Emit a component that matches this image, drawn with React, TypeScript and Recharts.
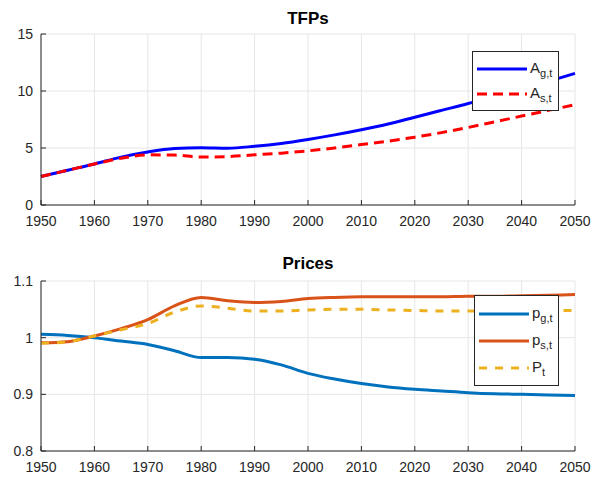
import React from "react"
import { LineChart, Line, XAxis, YAxis, CartesianGrid, Legend } from "recharts"

const years = [1950, 1955, 1960, 1965, 1970, 1975, 1980, 1985, 1990, 1995, 2000, 2005, 2010, 2015, 2020, 2025, 2030, 2035, 2040, 2045, 2050]
const aG = [2.5, 3.05, 3.6, 4.2, 4.65, 4.95, 5.02, 4.98, 5.15, 5.4, 5.75, 6.15, 6.6, 7.1, 7.7, 8.3, 8.9, 9.55, 10.2, 10.85, 11.55]
const aS = [2.5, 3.05, 3.6, 4.1, 4.4, 4.38, 4.2, 4.25, 4.4, 4.55, 4.75, 5.0, 5.3, 5.6, 5.95, 6.35, 6.8, 7.3, 7.8, 8.3, 8.8]
const pG = [1.006, 1.004, 1.0, 0.994, 0.988, 0.977, 0.965, 0.965, 0.962, 0.952, 0.937, 0.927, 0.919, 0.913, 0.909, 0.906, 0.903, 0.901, 0.9, 0.899, 0.898]
const pS = [0.991, 0.993, 1.003, 1.016, 1.032, 1.056, 1.071, 1.065, 1.062, 1.064, 1.069, 1.071, 1.072, 1.072, 1.072, 1.072, 1.073, 1.073, 1.074, 1.075, 1.076]
const pT = [0.99, 0.993, 1.003, 1.014, 1.025, 1.045, 1.056, 1.052, 1.047, 1.047, 1.049, 1.05, 1.05, 1.049, 1.048, 1.047, 1.047, 1.047, 1.047, 1.048, 1.048]

const xTicks = [1950, 1960, 1970, 1980, 1990, 2000, 2010, 2020, 2030, 2040, 2050]
const tfpTicks = [0, 5, 10, 15]
const priceTicks = [0.8, 0.9, 1, 1.1]

const tfpData = years.map((y, i) => ({ year: y, ag: aG[i], as: aS[i] }))
const priceData = years.map((y, i) => ({ year: y, pg: pG[i], ps: pS[i], pt: pT[i] }))

const font = "'Liberation Sans', Arial, sans-serif"
const axisColor = "#262626"
const tickStyle = { fontSize: 14, fill: "#262626", fontFamily: font }

type Item = { name: string; sub: string; color: string; dash?: string }

function BoxLegend({ items, rowGap }: { items: Item[]; rowGap: number }) {
  return (
    <div
      style={{
        border: "1px solid #262626",
        background: "#fff",
        boxSizing: "border-box",
        padding: "4px 4px",
        fontFamily: font,
        fontSize: 15,
        color: "#262626",
      }}
    >
      {items.map((it) => (
        <div key={it.name + it.sub} style={{ display: "flex", alignItems: "center", height: rowGap }}>
          <svg width={50} height={6} style={{ marginRight: 3 }}>
            <line x1={0} y1={3} x2={50} y2={3} stroke={it.color} strokeWidth={3} strokeDasharray={it.dash} />
          </svg>
          <span>
            {it.name}
            <sub style={{ fontSize: 11 }}>{it.sub}</sub>
          </span>
        </div>
      ))}
    </div>
  )
}

function Title({ text, top }: { text: string; top: number }) {
  return (
    <div
      style={{
        position: "absolute",
        top,
        left: 41,
        width: 534,
        textAlign: "center",
        fontFamily: font,
        fontWeight: "bold",
        fontSize: 17,
        color: "#000",
      }}
    >
      {text}
    </div>
  )
}

function boxAxes(domain: number[], yTicks: number[]) {
  return [
    <XAxis
      key="xt"
      xAxisId="top"
      orientation="top"
      dataKey="year"
      type="number"
      domain={[1950, 2050]}
      ticks={xTicks}
      tick={false}
      tickSize={-5}
      height={0}
      stroke={axisColor}
    />,
    <YAxis
      key="yr"
      yAxisId="right"
      orientation="right"
      type="number"
      domain={domain}
      ticks={yTicks}
      tick={false}
      tickSize={-5}
      width={0}
      stroke={axisColor}
    />,
  ]
}

export default function App() {
  return (
    <div style={{ position: "absolute", top: 0, left: 0, width: 593, height: 477, background: "#fff", overflow: "hidden" }}>
      <Title text="TFPs" top={9} />
      <div style={{ position: "absolute", top: 0, left: 0 }}>
        <LineChart width={593} height={240} data={tfpData} margin={{ top: 34, right: 18, left: 0, bottom: 0 }}>
          <CartesianGrid stroke="#e6e6e6" />
          <XAxis
            dataKey="year"
            type="number"
            domain={[1950, 2050]}
            ticks={xTicks}
            tickSize={-5}
            tickMargin={16}
            height={35}
            stroke={axisColor}
            tick={tickStyle}
          />
          <YAxis
            type="number"
            domain={[0, 15]}
            ticks={tfpTicks}
            tickSize={-5}
            tickMargin={13}
            width={41}
            stroke={axisColor}
            tick={tickStyle}
          />
          {boxAxes([0, 15], tfpTicks)}
          <Line dataKey="ag" type="monotone" stroke="#0000ff" strokeWidth={3} dot={false} isAnimationActive={false} />
          <Line dataKey="as" type="monotone" stroke="#ff0000" strokeWidth={3} strokeDasharray="10 6" dot={false} isAnimationActive={false} />
          <Legend
            layout="horizontal"
            verticalAlign="middle"
            align="center"
            wrapperStyle={{ top: 51, left: 472, width: 87 }}
            content={() => (
              <BoxLegend
                rowGap={25}
                items={[
                  { name: "A", sub: "g,t", color: "#0000ff" },
                  { name: "A", sub: "s,t", color: "#ff0000", dash: "10 6" },
                ]}
              />
            )}
          />
        </LineChart>
      </div>
      <Title text="Prices" top={254} />
      <div style={{ position: "absolute", top: 240, left: 0 }}>
        <LineChart width={593} height={237} data={priceData} margin={{ top: 41, right: 18, left: 0, bottom: 0 }}>
          <CartesianGrid stroke="#e6e6e6" />
          <XAxis
            dataKey="year"
            type="number"
            domain={[1950, 2050]}
            ticks={xTicks}
            tickSize={-5}
            tickMargin={16}
            height={26}
            stroke={axisColor}
            tick={tickStyle}
          />
          <YAxis
            type="number"
            domain={[0.8, 1.1]}
            ticks={priceTicks}
            tickSize={-5}
            tickMargin={13}
            width={41}
            stroke={axisColor}
            tick={tickStyle}
            allowDataOverflow
          />
          {boxAxes([0.8, 1.1], priceTicks)}
          <Line dataKey="pg" type="monotone" stroke="#0072bd" strokeWidth={3} dot={false} isAnimationActive={false} />
          <Line dataKey="ps" type="monotone" stroke="#d95319" strokeWidth={3} dot={false} isAnimationActive={false} />
          <Line dataKey="pt" type="monotone" stroke="#edb120" strokeWidth={3} strokeDasharray="8 8" dot={false} isAnimationActive={false} />
          <Legend
            layout="horizontal"
            verticalAlign="middle"
            align="center"
            wrapperStyle={{ top: 55, left: 474, width: 85 }}
            content={() => (
              <BoxLegend
                rowGap={27}
                items={[
                  { name: "p", sub: "g,t", color: "#0072bd" },
                  { name: "p", sub: "s,t", color: "#d95319" },
                  { name: "P", sub: "t", color: "#edb120", dash: "8 8" },
                ]}
              />
            )}
          />
        </LineChart>
      </div>
    </div>
  )
}
